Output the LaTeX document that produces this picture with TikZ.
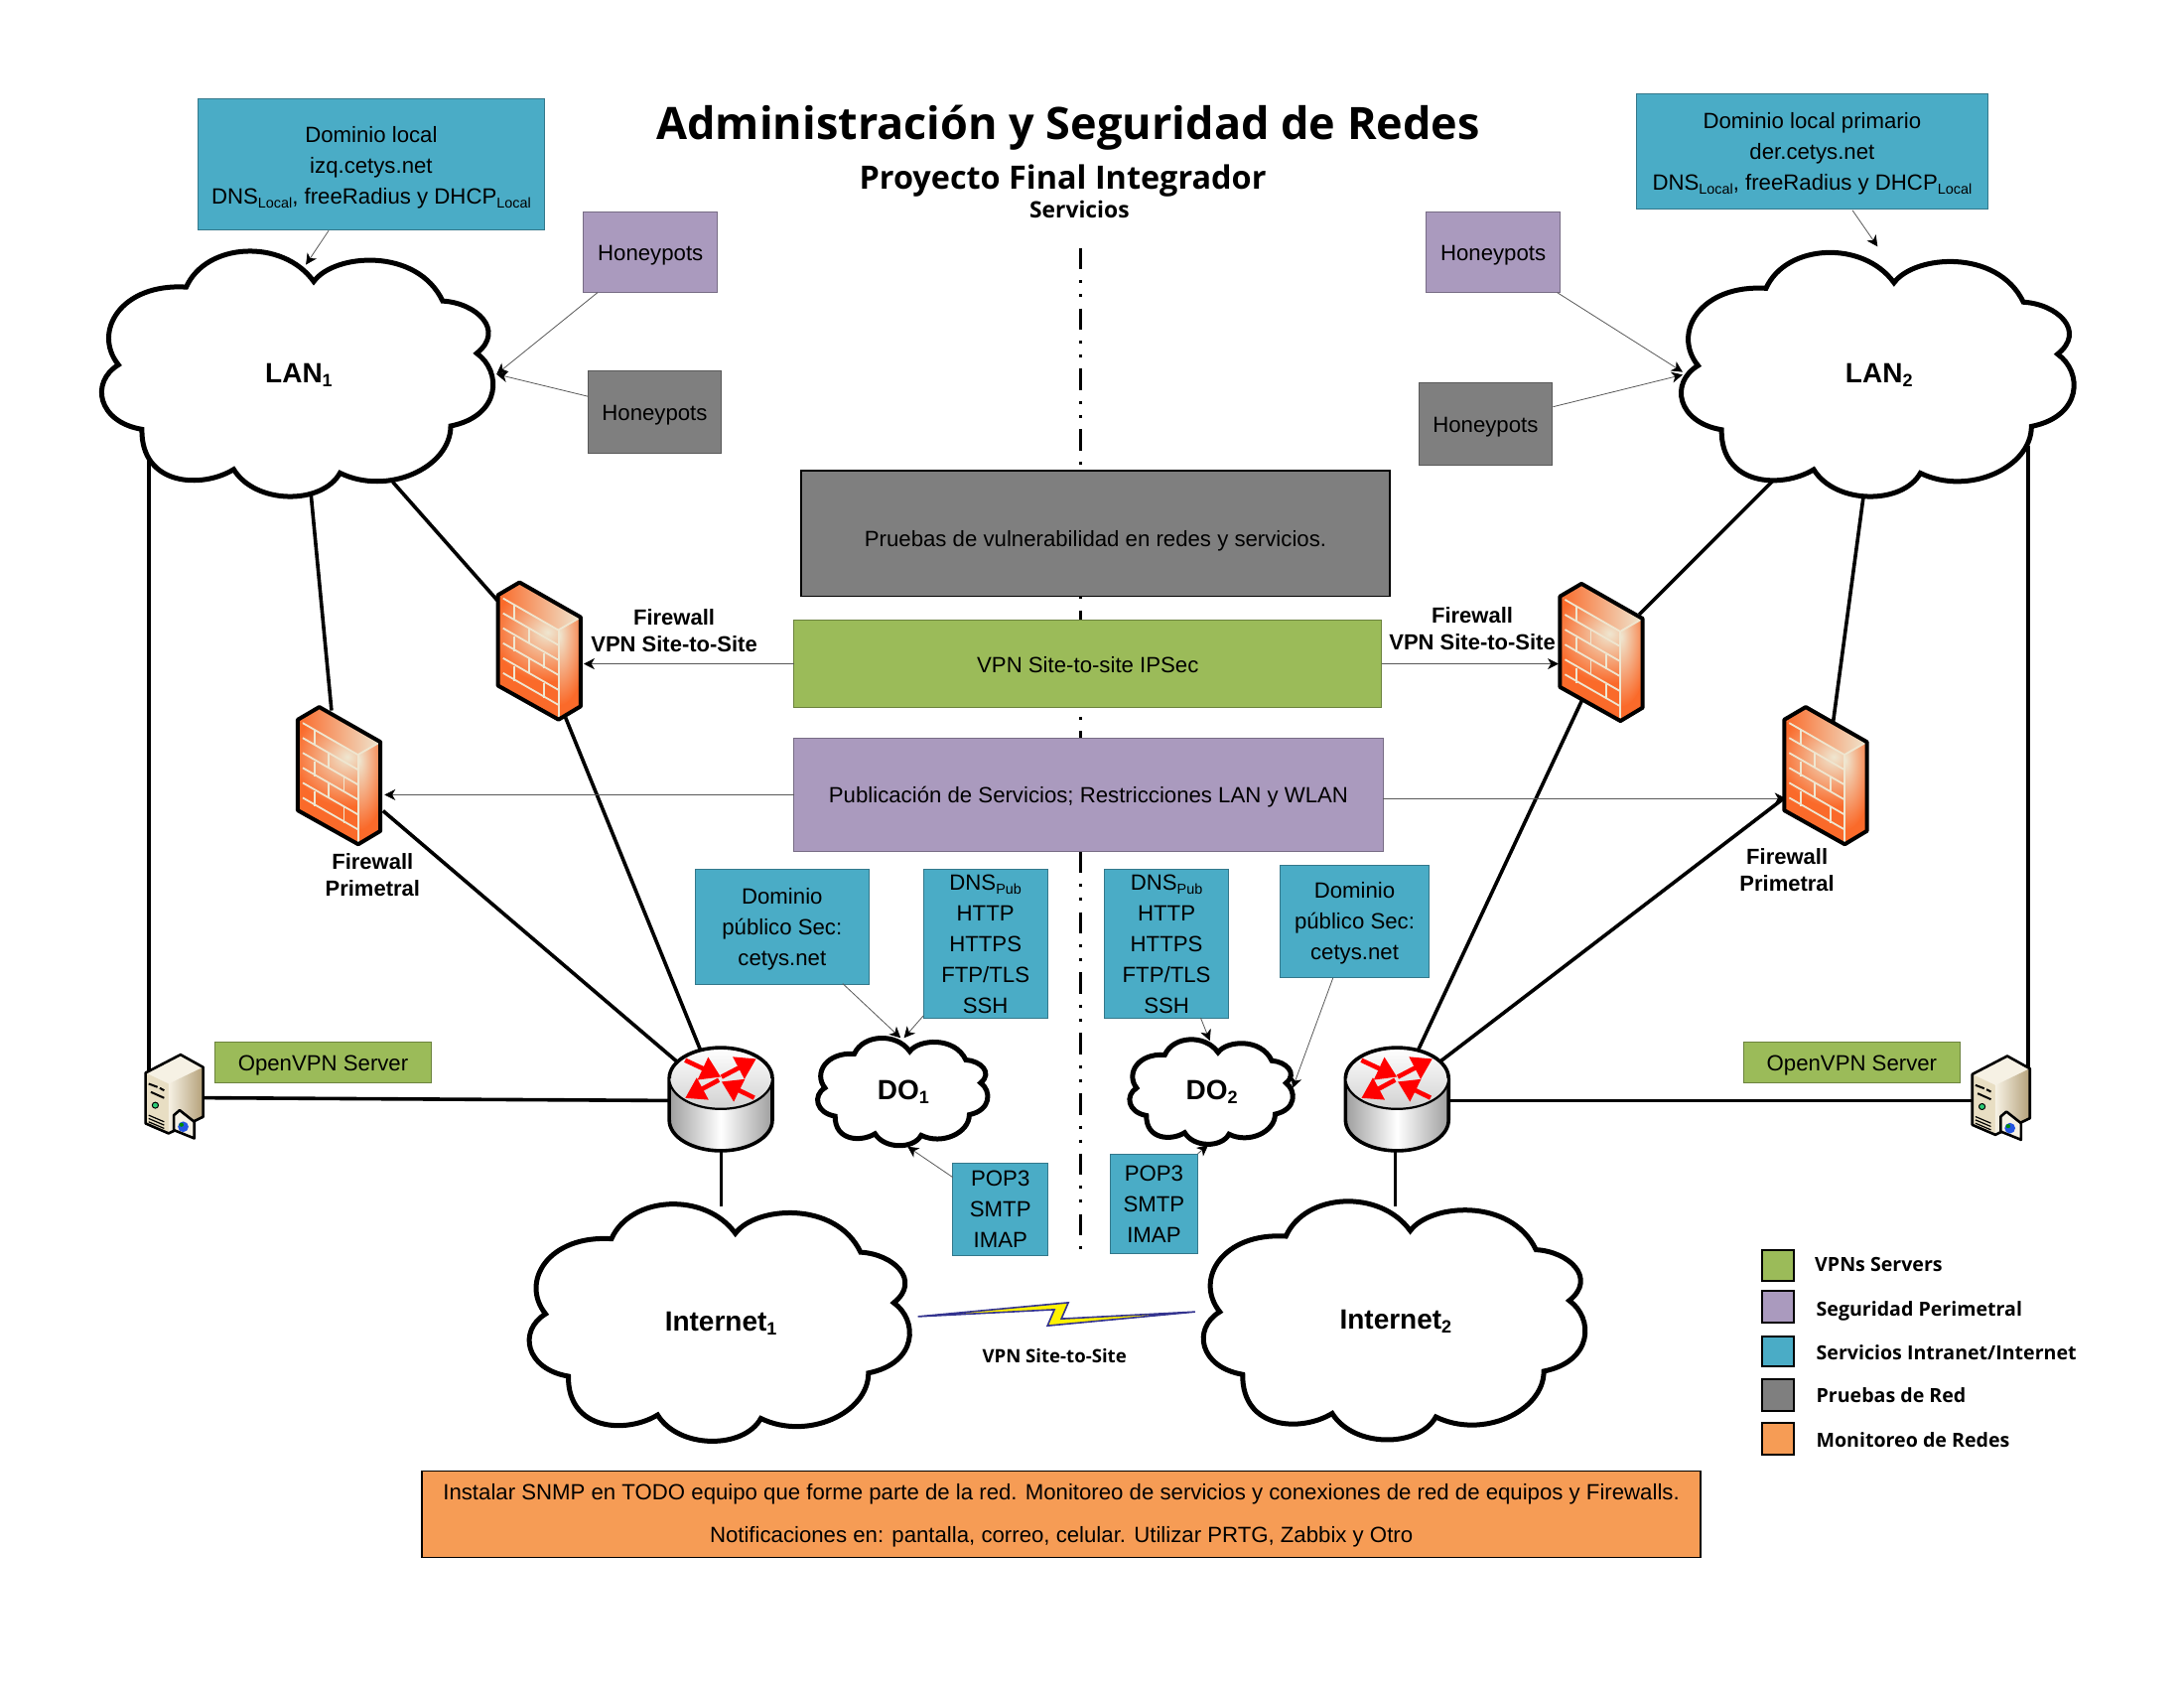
\documentclass[tikz,border=0pt]{standalone}
\usepackage{fontspec}
\setmainfont{Liberation Sans}
\newfontfamily\myr{Open Sans}
\usetikzlibrary{arrows.meta,calc}
\definecolor{teal}{HTML}{4AACC6}
\definecolor{purp}{HTML}{AA9ABE}
\definecolor{grayb}{HTML}{7F7F7F}
\definecolor{greenb}{HTML}{9BBB59}
\definecolor{orangeb}{HTML}{F69C55}
\definecolor{fwo}{HTML}{FA6A2A}
\definecolor{fwc}{HTML}{EFE6D0}
\definecolor{srvl}{HTML}{F6F1E4}
\definecolor{srvd}{HTML}{B4A078}
\definecolor{srvf}{HTML}{E8DEC3}
\newcommand\sbt[2][7.2]{\raisebox{-2pt}{\fontsize{#1}{#1}\selectfont #2}}
\newcommand\dn[1]{\rule{0pt}{#1pt}}
\tikzset{
 every node/.style={inner sep=0pt,outer sep=0pt},
 body/.style={font=\fontsize{11.1}{15.5}\selectfont,align=center,text=black},
 boxt/.style={body,draw=#1!70!black,line width=0.5pt,fill=#1},
 strongbox/.style={body,draw=black,line width=0.8pt,fill=#1},
 boldlab/.style={font=\fontsize{11}{13.4}\selectfont\bfseries,align=center},
 cloudlab/.style={font=\fontsize{14}{16}\selectfont\bfseries},
 legendlab/.style={font=\myr\fontsize{9.8}{12}\selectfont\bfseries,anchor=base west},
 legbox/.style={draw=black,line width=1pt,fill=#1},
 thick link/.style={draw=black,line width=1.8pt},
 mid link/.style={draw=black,line width=1.4pt},
 thin link/.style={draw=black!65,line width=0.4pt,-{Stealth[length=5.5pt,width=5.5pt,inset=1.6pt,black]}},
 cloudline/.style={draw=black,fill=white,line width=2.5pt,line join=miter},
 redarrow/.style={draw=red,line width=2.3pt,-{Triangle[length=10pt,width=12pt,fill=red]}},
}
\def\cloudpath{(-0.571,-0.707) .. controls (-0.47,-1.07) and (-0.08,-1.10) .. (0.076,-0.752)
 .. controls (0.18,-0.98) and (0.60,-1.03) .. (0.730,-0.595)
 .. controls (0.90,-0.58) and (1.05,-0.36) .. (0.903,-0.173)
 .. controls (1.03,-0.03) and (1.03,0.33) .. (0.771,0.413)
 .. controls (0.77,0.75) and (0.45,0.98) .. (0.209,0.792)
 .. controls (0.12,1.05) and (-0.22,1.05) .. (-0.330,0.763)
 .. controls (-0.49,0.92) and (-0.80,0.90) .. (-0.796,0.44)
 .. controls (-1.02,0.38) and (-1.06,0.06) .. (-0.915,-0.08)
 .. controls (-1.05,-0.35) and (-0.90,-0.74) .. (-0.571,-0.707) -- cycle}
\newcommand{\cloudat}[6]{%
 \begin{scope}[shift={(#2,#3)},xscale=#4,yscale=#5]
  \path[cloudline] \cloudpath;
 \end{scope}
 \node[cloudlab] (#1) at (#2,#3) {#6};}
\newcommand{\bx}[7]{%
 \pgfmathsetmacro\bw{(#5-#3)*0.7015}\pgfmathsetmacro\bh{(#6-#4)*0.7015}%
 \node[#1,minimum width=\bw pt,minimum height=\bh pt] (#2) at ({(#3+#5)/2},{(#4+#6)/2}) {#7};}
\newcommand{\firewall}[3]{%
 \begin{scope}[shift={(#2,#3)},xscale=0.2372,yscale=0.2385]
  \shade[left color=fwo,right color=fwc] (0,38)--(65,0)--(250,105)--(183,143)--cycle;
  \begin{scope}
   \clip (0,38)--(183,143)--(183,413)--(0,311)--cycle;
   \fill[fwo] (0,0) rectangle (250,413);
   \shade[inner color=fwc,outer color=fwo] (150,150) circle[x radius=165,y radius=150];
  \end{scope}
  \begin{scope}
   \clip (183,143)--(250,105)--(250,373)--(183,413)--cycle;
   \fill[fwo] (170,90) rectangle (260,420);
   \shade[inner color=fwc,outer color=fwo] (185,160) circle[x radius=85,y radius=210];
  \end{scope}
  \begin{scope}[draw=fwc,line width=0.9pt]
   \foreach \yy in {48,93,138,183,228,273}{\draw (15,\yy)--(183,\yy+96);}
   \foreach \xx/\ya/\yb in {50/68/113,93/138/183,50/163/208,140/213/258,93/228/273,50/253/298,140/303/348}{\draw (\xx,\ya)--(\xx,\yb);}
   \draw (183,143)--(183,405);
   \draw (183,143)--(250,105);
  \end{scope}
  \draw[black,line width=2pt,line join=round] (0,38)--(65,0)--(250,105)--(250,373)--(183,413)--(0,311)--cycle;
 \end{scope}
 \node[minimum width=41.6pt,minimum height=69pt] (#1) at ({#2+29.6},{#3+49.2}) {};}
\newcommand{\router}[3]{%
 \begin{scope}[shift={(#2,#3)}]
  \shade[left color=black!38,right color=black!38,middle color=white] (-37,0) -- (-37,30) arc[start angle=180,end angle=0,x radius=37,y radius=22] -- (37,0) -- cycle;
  \draw[black,line width=1.8pt] (-37,0) -- (-37,30) arc[start angle=180,end angle=0,x radius=37,y radius=22] -- (37,0);
  \draw[black,line width=1.1pt,top color=white,bottom color=black!18] (0,0) ellipse[x radius=37,y radius=22];
  \draw[black,line width=1.8pt] (-37,0) arc[start angle=180,end angle=360,x radius=37,y radius=22];
  \draw[redarrow] (-25.6,-13)--(0,-1);
  \draw[redarrow] (0.5,-1)--(25.4,-14);
  \draw[redarrow] (24,14)--(0.5,2.4);
  \draw[redarrow] (-1.4,1.2)--(-25.6,14.2);
 \end{scope}
 \node[minimum width=52pt,minimum height=52pt] (#1) at (#2,{#3+15}) {};}
\newcommand{\serverbox}[3]{%
 \begin{scope}[shift={(#2,#3)},xscale=0.318,yscale=0.2375,line join=round]
  \fill[srvl] (0,55)--(79,0)--(130,38)--(52,88)--cycle;
  \fill[srvf] (0,55)--(52,88)--(52,238)--(0,208)--cycle;
  \shade[left color=srvl,right color=srvd] (52,88)--(130,38)--(130,188)--(52,238)--cycle;
  \draw[black,line width=1.3pt] (0,55)--(79,0)--(130,38)--(130,188)--(52,238)--(0,208)--cycle;
  \foreach \xa/\ya/\xb/\yb in {7/88/27/98,32/101/42/108,12/113/42/131}{\draw[black,line width=1pt] (\xa,\ya)--(\xb,\yb);}
  \foreach \ya in {183,193,203,213}{\draw[black,line width=0.6pt] (7,\ya)--(42,\ya+20);}
  \draw[black,fill=teal!60!green,line width=0.5pt] (22,153) circle[x radius=7,y radius=9];
  \draw[black,fill=srvl,line width=1.3pt] (64,183)--(77,168)--(110,203)--(110,253)--(64,228)--cycle;
  \fill[blue!50!teal] (85,218) circle[x radius=12,y radius=16];
  \fill[green!55!black] (81,212) circle[x radius=5,y radius=6];
 \end{scope}
 \node[minimum width=29pt,minimum height=42pt] (#1) at ({#2+20.7},{#3+30}) {};}
\begin{document}
\begin{tikzpicture}[x=0.7015pt,y=-0.7015pt]
\useasboundingbox (0,0) rectangle (1568,1211.7);
\fill[white] (0,0) rectangle (1568,1211.7);
% centre divider
\draw[black,line width=1.6pt,dash pattern=on 10.8pt off 5.5pt on 1.5pt off 5.5pt on 1.5pt off 5.6pt] (776,178) -- (776,900);
% ports
\coordinate (a1) at (107,330); \coordinate (a2) at (107,770);
\coordinate (b1) at (146,788); \coordinate (b2) at (481,790);
\coordinate (c1) at (223,352); \coordinate (c2) at (238,510);
\coordinate (d1) at (282,346); \coordinate (d2) at (358,432);
\coordinate (e1) at (406,515); \coordinate (e2) at (503,754);
\coordinate (f1) at (275,582); \coordinate (f2) at (486,762);
\coordinate (g1) at (518,825); \coordinate (g2) at (518,866);
\coordinate (h1) at (1276,342); \coordinate (h2) at (1177,441);
\coordinate (i1) at (1338,355); \coordinate (i2) at (1316,519);
\coordinate (j1) at (1137,500); \coordinate (j2) at (1018,754);
\coordinate (k1) at (1282,572); \coordinate (k2) at (1030,765);
\coordinate (l1) at (1002,826); \coordinate (l2) at (1002,866);
\coordinate (m1) at (1456,320); \coordinate (m2) at (1456,770);
\coordinate (n1) at (1040,790); \coordinate (n2) at (1417,790);
\foreach \p/\q in {a1/a2,b1/b2,c1/c2,d1/d2,e1/e2,f1/f2,h1/h2,i1/i2,j1/j2,k1/k2,m1/m2,n1/n2}{\draw[thick link] (\p)--(\q);}
\draw[mid link] (g1)--(g2);
\draw[mid link] (l1)--(l2);
% clouds
\cloudat{lan1}{214.5}{269}{141.5}{89}{LAN\sbt[9]{1}}
\cloudat{lan2}{1349}{269.5}{142}{88.5}{LAN\sbt[9]{2}}
\cloudat{inet1}{517.5}{950}{137.5}{86}{Internet\sbt[9]{1}}
\cloudat{inet2}{1002}{948.5}{138}{86.5}{Internet\sbt[9]{2}}
\cloudat{do1}{648.5}{784}{61.5}{39}{DO\sbt[9]{1}}
\cloudat{do2}{870}{784}{59}{38}{DO\sbt[9]{2}}
% devices
\firewall{fwA}{213.8}{507.5}
\firewall{fwB}{357.6}{418}
\firewall{fwC}{1120}{419}
\firewall{fwD}{1281}{507.5}
\router{rtA}{517.5}{774}
\router{rtB}{1003}{774}
\serverbox{svA}{104.5}{757}
\serverbox{svB}{1416}{758}
% boxes
\bx{boxt=teal}{dom1}{142}{71}{391}{165}{\dn{10.8}Dominio local\\izq.cetys.net\\DNS\sbt{Local}, freeRadius y DHCP\sbt{Local}}
\bx{boxt=teal}{dom2}{1175}{67}{1427}{150}{\dn{10.8}Dominio local primario\\der.cetys.net\\DNS\sbt{Local}, freeRadius y DHCP\sbt{Local}}
\bx{boxt=purp}{hp1}{419}{152}{515}{210}{\dn{10.8}Honeypots}
\bx{boxt=grayb}{hp2}{422}{266}{518}{325}{\dn{11.5}Honeypots}
\bx{boxt=purp}{hp3}{1024}{152}{1120}{210}{\dn{10.8}Honeypots}
\bx{boxt=grayb}{hp4}{1019}{275}{1114}{334}{\dn{10.8}Honeypots}
\bx{strongbox=grayb}{prb}{575}{338}{998}{428}{\dn{15}Pruebas de vulnerabilidad en redes y servicios.}
\bx{boxt=greenb}{vpn}{570}{445}{992}{508}{\dn{9.4}VPN Site-to-site IPSec}
\bx{boxt=purp}{pub}{570}{530}{993}{611}{\dn{10.8}Publicación de Servicios; Restricciones LAN y WLAN}
\bx{boxt=teal}{dp1}{499}{624}{624}{707}{\dn{9.6}Dominio\\público Sec:\\cetys.net}
\bx{boxt=teal}{dp2}{919}{621}{1026}{702}{\dn{9.6}Dominio\\público Sec:\\cetys.net}
\bx{boxt=teal}{dns1}{663}{624}{752}{731}{DNS\sbt{Pub}\\HTTP\\HTTPS\\FTP/TLS\\SSH}
\bx{boxt=teal}{dns2}{793}{624}{882}{731}{DNS\sbt{Pub}\\HTTP\\HTTPS\\FTP/TLS\\SSH}
\bx{boxt=teal}{pop1}{684}{835}{752.5}{901}{POP3\\SMTP\\IMAP}
\bx{boxt=teal}{pop2}{797}{828.5}{860}{899.5}{POP3\\SMTP\\IMAP}
\bx{boxt=greenb}{ovA}{154}{748}{310}{777}{\dn{10.8}OpenVPN Server}
\bx{boxt=greenb}{ovB}{1252}{748}{1407}{777}{\dn{10.8}OpenVPN Server}
\bx{strongbox=orangeb,font=\fontsize{11.1}{21.7}\selectfont}{mon}{303}{1056}{1221}{1118}{\dn{9.4}Instalar SNMP en TODO equipo que forme parte de la red. Monitoreo de servicios y conexiones de red de equipos y Firewalls.\\Notificaciones en: pantalla, correo, celular. Utilizar PRTG, Zabbix y Otro}
% thin arrows
\coordinate (ta1) at (236,165.5); \coordinate (ta2) at (219.6,190);
\coordinate (tb1) at (429,210); \coordinate (tb2) at (356.5,268.6);
\coordinate (tc1) at (422,284.5);
\coordinate (td1) at (1330,151); \coordinate (td2) at (1348,177);
\coordinate (te1) at (1118,210); \coordinate (te2) at (1208,267);
\coordinate (tf1) at (1115,292); \coordinate (tf2) at (1208,269);
\coordinate (tg2) at (419,476.5); \coordinate (th2) at (1119,476.5);
\coordinate (ti2) at (276,570.5); \coordinate (tj1) at (993,573); \coordinate (tj2) at (1282,573);
\coordinate (tk1) at (605,706); \coordinate (tk2) at (646.6,745);
\coordinate (tl1) at (663,729); \coordinate (tl2) at (649,745);
\coordinate (tm1) at (862,730.6); \coordinate (tm2) at (868.6,747);
\coordinate (tn1) at (957,702); \coordinate (tn2) at (928,781);
\coordinate (to1) at (684,845); \coordinate (to2) at (651.6,823);
\coordinate (tp1) at (860,828); \coordinate (tp2) at (867.4,822);
\foreach \p/\q in {ta1/ta2,tb1/tb2,tc1/tb2,td1/td2,te1/te2,tf1/tf2,tj1/tj2,tk1/tk2,tl1/tl2,tm1/tm2,tn1/tn2,to1/to2,tp1/tp2}{\draw[thin link] (\p)--(\q);}
\draw[thin link] (vpn.west)--(tg2);
\draw[thin link] (vpn.east)--(th2);
\draw[thin link] (pub.west)--(ti2);
% lightning
\draw[draw=blue!45!black!80,fill=yellow,line width=0.8pt,line join=miter] (659,945)--(767,935)--(762,946.6)--(858,941.6)--(752,951.6)--(757,940)--cycle;
% labels
\node[font=\myr\fontsize{22.5}{26}\selectfont\bfseries] (title) at (767,92) {Administración y Seguridad de Redes};
\node[font=\myr\fontsize{16.2}{18}\selectfont\bfseries] (sub) at (763,130) {Proyecto Final Integrador};
\node[font=\myr\fontsize{11.4}{13}\selectfont\bfseries] (serv) at (775,150) {Servicios};
\node[boldlab] (lb1) at (484,452.5) {Firewall\\VPN Site-to-Site};
\node[boldlab] (lb2) at (1057,451) {Firewall\\VPN Site-to-Site};
\node[boldlab] (lb3) at (267.5,627.8) {Firewall\\Primetral};
\node[boldlab] (lb4) at (1283,624.5) {Firewall\\Primetral};
\node[font=\myr\fontsize{9.3}{12}\selectfont\bfseries] (lb5) at (757,973) {VPN Site-to-Site};
% legend
\bx{legbox=greenb}{lg1}{1265}{897}{1288}{919.5}{}
\bx{legbox=purp}{lg2}{1265}{926.6}{1288}{949.5}{}
\bx{legbox=teal}{lg3}{1265}{959}{1288}{981}{}
\bx{legbox=grayb}{lg4}{1265}{990}{1288}{1013}{}
\bx{legbox=orangeb}{lg5}{1265}{1021.6}{1288}{1044}{}
\node[legendlab] (lt1) at (1303,912.8) {VPNs Servers};
\node[legendlab] (lt2) at (1304,944.5) {Seguridad Perimetral};
\node[legendlab] (lt3) at (1304,976) {Servicios Intranet/Internet};
\node[legendlab] (lt4) at (1304,1007) {Pruebas de Red};
\node[legendlab] (lt5) at (1304,1039) {Monitoreo de Redes};
\end{tikzpicture}
\end{document}
